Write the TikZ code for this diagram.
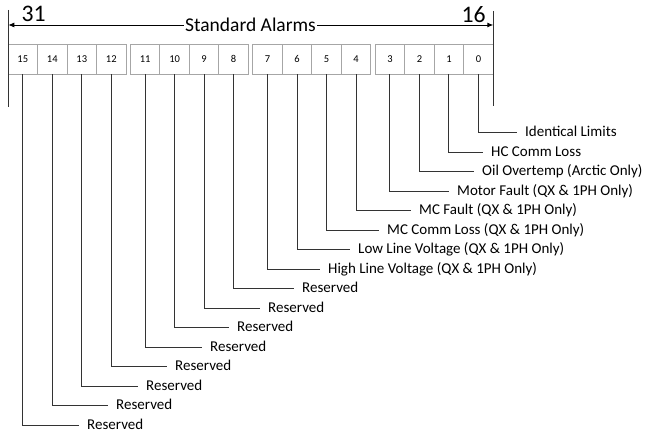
\documentclass[tikz,border=0pt]{standalone}
\usepackage{fontspec}
\setmainfont{Carlito}
\usetikzlibrary{arrows.meta}
\tikzset{
  bitcell/.style={draw=black!35, line width=0.9pt, minimum width=29.5pt, minimum height=30pt, inner sep=0pt, font=\fontsize{10.5}{12}\selectfont},
  bitlabel/.style={anchor=west, inner xsep=8pt, inner ysep=0pt, text height=0.9em, text depth=0.1em, font=\fontsize{15}{18}\selectfont},
  bitline/.style={draw=black!80, line width=1pt},
  rangetip/.style={-{Latex[length=6pt,width=5pt]}, line width=0.9pt},
  bignum/.style={inner sep=0pt, font=\fontsize{23.7}{28}\selectfont},
  rangetitle/.style={fill=white, inner sep=1pt, text depth=0pt, font=\fontsize{19.5}{23}\selectfont}
}
\begin{document}
\begin{tikzpicture}[x=1pt,y=-1pt]
\useasboundingbox (0,0) rectangle (646,438);
% bit cells, four groups of four
\foreach \b in {0,...,15} {
  \pgfmathtruncatemacro{\p}{15-\b}
  \pgfmathtruncatemacro{\g}{floor(\p/4)}
  \pgfmathsetmacro{\cx}{22.75+122.4*\g+29.5*(\p-4*\g)}
  \node[bitcell] (c\b) at (\cx,59) {\b};
}
% range marker
\coordinate (topL) at (8.3,10);
\coordinate (botL) at (8.3,107);
\coordinate (topR) at (493.3,11);
\coordinate (botR) at (493.3,106);
\coordinate (arrL) at (8.3,25);
\coordinate (arrR) at (493.3,25);
\draw[bitline] (topL) -- (botL);
\draw[bitline] (topR) -- (botR);
\node[rangetitle] (title) at (250.5,25) {Standard Alarms};
\draw[rangetip] (title.west) -- (arrL);
\draw[rangetip] (title.east) -- (arrR);
\node[bignum] (hi) at (33.7,14) {31};
\node[bignum] (lo) at (473.7,15) {16};
% bit descriptions
\foreach \b/\lx/\txt in {0/517/Identical Limits, 1/483/HC Comm Loss,
    2/474/Oil Overtemp (Arctic Only), 3/449/Motor Fault (QX \& 1PH Only),
    4/411/MC Fault (QX \& 1PH Only), 5/379/MC Comm Loss (QX \& 1PH Only),
    6/350/Low Line Voltage (QX \& 1PH Only), 7/320/High Line Voltage (QX \& 1PH Only),
    8/294/Reserved, 9/260/Reserved, 10/229/Reserved, 11/202/Reserved,
    12/167/Reserved, 13/138/Reserved, 14/108/Reserved, 15/79/Reserved} {
  \pgfmathsetmacro{\ly}{132.7+19.5*\b}
  \node[bitlabel] (l\b) at (\lx,\ly) {\txt};
  \draw[bitline] (c\b.south) |- (l\b.west);
}
\end{tikzpicture}
\end{document}
